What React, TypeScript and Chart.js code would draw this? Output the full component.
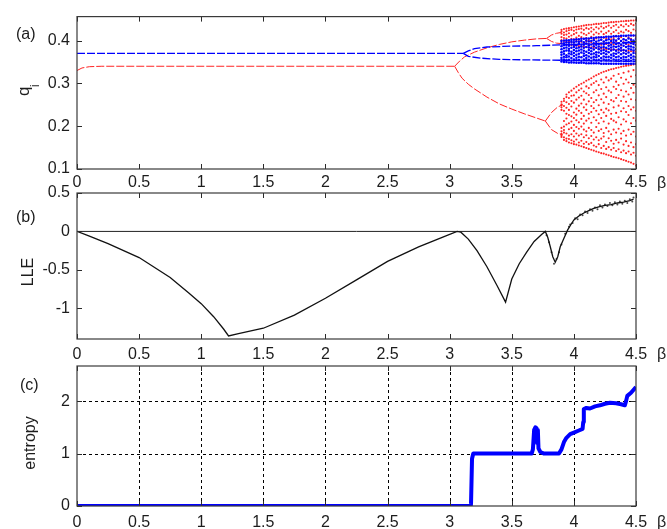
import React, { useEffect, useRef } from 'react';
import { Chart, registerables } from 'chart.js';

Chart.register(...registerables);

const W = 667;
const H = 529;
const FONT = '"Liberation Sans", Arial, sans-serif';
const TEXT = '#1c1c1c';

// ---- axes ----
const betaTicks = [0, 0.5, 1, 1.5, 2, 2.5, 3, 3.5, 4, 4.5];
const qTicks = [0.1, 0.2, 0.3, 0.4];
const lleTicks = [-1, -0.5, 0, 0.5];
const entropyTicks = [0, 1, 2];

// ---- (a) periodic branches, [beta, q] ----
const redMain = [[0, 0.330], [0.04, 0.336], [0.1, 0.339], [0.2, 0.340], [3.04, 0.340]];
const redUpper = [[3.04, 0.340], [3.08, 0.352], [3.12, 0.362], [3.2, 0.373], [3.3, 0.383], [3.4, 0.391], [3.5, 0.397], [3.6, 0.401], [3.7, 0.404], [3.78, 0.405]];
const redUpperA = [[3.78, 0.405], [3.82, 0.413], [3.86, 0.417], [3.9, 0.419]];
const redUpperB = [[3.78, 0.405], [3.82, 0.398], [3.86, 0.394], [3.9, 0.393]];
const redLower = [[3.04, 0.340], [3.07, 0.325], [3.1, 0.312], [3.15, 0.298], [3.2, 0.287], [3.3, 0.268], [3.4, 0.252], [3.5, 0.240], [3.6, 0.229], [3.7, 0.219], [3.77, 0.212]];
const redLowerA = [[3.77, 0.212], [3.82, 0.232], [3.87, 0.245], [3.91, 0.250]];
const redLowerB = [[3.77, 0.212], [3.82, 0.192], [3.87, 0.183], [3.91, 0.180]];
const blueMain = [[0, 0.370], [3.11, 0.370]];
const blueUpper = [[3.11, 0.370], [3.15, 0.376], [3.2, 0.381], [3.3, 0.385], [3.5, 0.387], [3.7, 0.388], [3.9, 0.390], [4.5, 0.396]];
const blueLower = [[3.11, 0.370], [3.15, 0.363], [3.25, 0.359], [3.4, 0.356], [3.6, 0.355], [3.9, 0.354], [4.5, 0.351]];

// ---- (a) chaotic band, q in thousandths per beta column ----
const chaosBeta = [3.90, 3.92, 3.94, 3.96, 3.98, 4.00, 4.02, 4.04, 4.06, 4.08, 4.10, 4.12, 4.14, 4.16, 4.18, 4.20, 4.22, 4.24, 4.26, 4.28, 4.30, 4.32, 4.34, 4.36, 4.38, 4.40, 4.42, 4.44, 4.46, 4.48, 4.50];
const redLowCloud = [
  [175, 182, 188, 196, 238, 244, 251, 257, 179, 249],
  [168, 174, 185, 199, 212, 236, 247, 259, 264, 191],
  [165, 171, 183, 204, 218, 229, 243, 256, 268, 274],
  [162, 170, 178, 193, 207, 226, 238, 252, 266, 279],
  [160, 167, 181, 196, 211, 223, 246, 259, 271, 283],
  [158, 164, 176, 189, 203, 219, 232, 255, 272, 288],
  [157, 169, 183, 198, 214, 227, 241, 262, 279, 292],
  [155, 162, 178, 194, 209, 236, 248, 267, 284, 296],
  [153, 166, 181, 199, 217, 231, 253, 271, 288, 299],
  [151, 159, 174, 192, 206, 224, 244, 262, 281, 302],
  [149, 163, 179, 188, 213, 238, 251, 277, 293, 306],
  [147, 158, 172, 196, 218, 229, 258, 273, 289, 309],
  [145, 161, 177, 191, 208, 233, 247, 266, 297, 312],
  [143, 155, 169, 185, 221, 242, 256, 279, 301, 316],
  [141, 152, 174, 198, 214, 236, 261, 284, 305, 319],
  [139, 158, 167, 189, 207, 228, 249, 272, 296, 322],
  [137, 149, 171, 193, 219, 238, 263, 287, 309, 325],
  [136, 154, 176, 184, 211, 232, 255, 276, 302, 327],
  [134, 147, 163, 196, 224, 241, 268, 291, 314, 329],
  [132, 151, 172, 188, 206, 237, 252, 283, 307, 331],
  [130, 145, 166, 181, 217, 229, 261, 279, 311, 333],
  [128, 149, 159, 192, 213, 244, 258, 292, 318, 334],
  [127, 142, 168, 185, 209, 231, 266, 287, 304, 336],
  [125, 146, 162, 194, 221, 248, 273, 296, 322, 337],
  [123, 139, 171, 183, 204, 235, 259, 284, 313, 339],
  [121, 143, 157, 189, 216, 242, 269, 299, 325, 340],
  [119, 137, 165, 178, 211, 233, 257, 281, 309, 341],
  [117, 141, 154, 192, 226, 247, 274, 302, 328, 342],
  [115, 134, 162, 181, 207, 239, 263, 289, 316, 343],
  [112, 138, 151, 187, 219, 244, 278, 297, 331, 344],
  [108, 131, 158, 176, 213, 236, 261, 292, 319, 345],
];
const redHighCloud = [
  [394, 401, 408, 416, 421, 425],
  [392, 399, 406, 413, 419, 427],
  [391, 397, 405, 414, 422, 428],
  [390, 398, 409, 417, 424, 429],
  [389, 396, 404, 412, 425, 430],
  [388, 395, 403, 415, 423, 431],
  [388, 399, 407, 418, 426, 432],
  [387, 394, 402, 411, 427, 433],
  [386, 397, 408, 419, 428, 434],
  [386, 393, 404, 416, 425, 435],
  [385, 398, 406, 413, 429, 436],
  [384, 392, 401, 417, 427, 437],
  [384, 396, 409, 421, 430, 437],
  [383, 391, 403, 414, 426, 438],
  [383, 397, 405, 419, 431, 439],
  [382, 393, 408, 416, 428, 439],
  [381, 390, 402, 421, 433, 440],
  [381, 396, 407, 415, 429, 441],
  [380, 392, 404, 418, 432, 441],
  [380, 389, 409, 422, 435, 442],
  [379, 395, 403, 416, 430, 443],
  [379, 391, 406, 420, 434, 443],
  [378, 398, 411, 424, 437, 444],
  [378, 393, 405, 417, 431, 444],
  [377, 389, 408, 421, 436, 445],
  [377, 396, 403, 419, 433, 445],
  [376, 392, 410, 425, 438, 446],
  [376, 390, 407, 422, 434, 446],
  [375, 397, 404, 418, 439, 447],
  [375, 393, 412, 426, 436, 447],
  [374, 391, 408, 423, 440, 448],
];
const blueCloud = [
  [351, 355, 360, 367, 373, 380, 387, 393, 399],
  [350, 356, 362, 369, 375, 382, 389, 394, 400],
  [350, 354, 361, 366, 377, 384, 390, 396, 401],
  [349, 355, 363, 370, 376, 381, 388, 395, 401],
  [349, 353, 359, 368, 374, 383, 391, 397, 402],
  [349, 356, 364, 371, 378, 385, 390, 396, 402],
  [348, 354, 360, 367, 375, 382, 389, 398, 403],
  [348, 355, 362, 369, 377, 384, 392, 397, 403],
  [348, 353, 361, 372, 379, 386, 391, 399, 404],
  [348, 356, 364, 370, 376, 383, 390, 396, 404],
  [347, 354, 359, 366, 374, 385, 393, 400, 405],
  [347, 355, 363, 371, 378, 384, 389, 398, 405],
  [347, 353, 360, 368, 375, 382, 391, 399, 406],
  [347, 356, 362, 370, 379, 387, 394, 401, 406],
  [347, 354, 361, 367, 373, 383, 390, 397, 407],
  [347, 355, 364, 372, 380, 386, 392, 400, 407],
  [346, 353, 359, 369, 376, 384, 393, 402, 408],
  [346, 356, 363, 371, 378, 385, 391, 398, 408],
  [346, 354, 361, 368, 375, 383, 394, 401, 409],
  [346, 355, 362, 373, 381, 388, 395, 403, 409],
  [346, 353, 360, 367, 377, 384, 390, 399, 409],
  [346, 356, 364, 370, 379, 386, 396, 402, 410],
  [346, 354, 361, 369, 376, 385, 392, 400, 410],
  [346, 355, 363, 372, 380, 387, 394, 404, 410],
  [346, 353, 359, 368, 377, 383, 391, 399, 411],
  [346, 356, 362, 371, 378, 388, 395, 403, 411],
  [346, 354, 361, 369, 376, 385, 393, 401, 411],
  [346, 355, 364, 372, 381, 387, 396, 405, 412],
  [346, 353, 360, 367, 379, 386, 394, 402, 412],
  [346, 356, 363, 371, 377, 384, 392, 400, 412],
  [346, 354, 361, 370, 380, 389, 397, 404, 412],
];

// ---- (b) largest Lyapunov exponent ----
const lleBeta = [0, 0.1, 0.25, 0.5, 0.75, 0.9, 1.0, 1.1, 1.18, 1.22, 1.3, 1.5, 1.75, 2.0, 2.25, 2.5, 2.75, 2.95, 3.06, 3.09, 3.15, 3.22, 3.3, 3.38, 3.45, 3.5, 3.56, 3.62, 3.68, 3.74, 3.77, 3.79, 3.81, 3.83, 3.85, 3.87, 3.89, 3.92, 3.95, 3.98, 4.0, 4.04, 4.08, 4.12, 4.16, 4.2, 4.25, 4.3, 4.35, 4.4, 4.45, 4.48];
const lleValue = [0, -0.06, -0.16, -0.34, -0.6, -0.8, -0.94, -1.11, -1.27, -1.36, -1.33, -1.26, -1.09, -0.87, -0.63, -0.39, -0.2, -0.07, 0, -0.01, -0.1, -0.25, -0.46, -0.7, -0.92, -0.62, -0.42, -0.27, -0.13, -0.04, 0, -0.08, -0.2, -0.33, -0.4, -0.33, -0.2, -0.09, 0.02, 0.1, 0.15, 0.2, 0.24, 0.27, 0.3, 0.32, 0.34, 0.35, 0.37, 0.38, 0.4, 0.42];
const lleScatterBeta = [3.78, 3.8, 3.82, 3.84, 3.86, 3.88, 3.9, 3.93, 3.96, 3.97, 3.99, 4.01, 4.03, 4.05, 4.07, 4.09, 4.11, 4.13, 4.15, 4.17, 4.19, 4.21, 4.23, 4.25, 4.27, 4.29, 4.31, 4.33, 4.35, 4.37, 4.39, 4.41, 4.43, 4.45, 4.47, 4.48];
const lleScatterValue = [-0.05, -0.14, -0.27, -0.42, -0.36, -0.27, -0.17, -0.03, 0.06, 0.09, 0.11, 0.17, 0.16, 0.22, 0.21, 0.26, 0.24, 0.29, 0.27, 0.31, 0.29, 0.34, 0.31, 0.35, 0.33, 0.37, 0.34, 0.38, 0.35, 0.39, 0.36, 0.4, 0.37, 0.42, 0.39, 0.44];

// ---- (c) entropy ----
const entropyBeta = [0, 3.17, 3.172, 3.18, 3.19, 3.66, 3.67, 3.68, 3.69, 3.7, 3.705, 3.71, 3.715, 3.73, 3.76, 3.88, 3.9, 3.92, 3.94, 3.97, 4.0, 4.04, 4.07, 4.075, 4.08, 4.1, 4.13, 4.17, 4.21, 4.25, 4.29, 4.34, 4.38, 4.41, 4.42, 4.43, 4.46, 4.5];
const entropyValue = [0, 0, 0.05, 0.9, 1.0, 1.0, 1.08, 1.45, 1.5, 1.48, 1.2, 1.45, 1.1, 1.03, 1.0, 1.0, 1.08, 1.22, 1.3, 1.37, 1.4, 1.44, 1.47, 1.6, 1.85, 1.87, 1.86, 1.9, 1.92, 1.95, 1.97, 1.96, 1.94, 1.92, 2.0, 2.1, 2.16, 2.27];

const fromPairs = (arr: number[][]) => arr.map(([x, y]) => ({ x, y }));
const fromColumns = (xs: number[], ys: number[]) => xs.map((x, i) => ({ x, y: ys[i] }));
const fromCloud = (xs: number[], rows: number[][]) =>
  rows.flatMap((row, i) => row.map((v) => ({ x: xs[i], y: v / 1000 })));

const RED = '#ff2424';
const BLUE = '#0000ff';

const branch = (arr: number[][], color: string, width = 1) => ({
  data: fromPairs(arr),
  showLine: true,
  borderColor: color,
  borderWidth: width,
  borderDash: [8, 2],
  pointRadius: 0,
});

const cloud = (rows: number[][], color: string, r: number) => ({
  data: fromCloud(chaosBeta, rows),
  showLine: false,
  pointRadius: r,
  pointBorderWidth: 0,
  pointBackgroundColor: color,
  backgroundColor: color,
});

type Panel = {
  top: number;
  bottom: number;
  yMin: number;
  yMax: number;
  yTicks: number[];
  xPad: number;
  dashedGrid: boolean;
  tag: string;
  tagPos: [number, number];
  betaBaseline: number;
  drawTitle: (ctx: CanvasRenderingContext2D) => void;
};

const LEFT = 77;
const RIGHT = 636;
const X_AXIS_H = 30;

function frameTicks(chart: any, p: Panel) {
  const { ctx, chartArea: a, scales } = chart;
  const xs = scales.x;
  const ys = scales.y;
  ctx.save();
  ctx.strokeStyle = '#2a2a2a';
  ctx.lineWidth = 1;
  ctx.beginPath();
  const tl = 5;
  for (const v of betaTicks) {
    const px = Math.round(xs.getPixelForValue(v)) + 0.5;
    ctx.moveTo(px, a.top);
    ctx.lineTo(px, a.top + tl);
    ctx.moveTo(px, a.bottom);
    ctx.lineTo(px, a.bottom - tl);
  }
  for (const v of p.yTicks) {
    const py = Math.round(ys.getPixelForValue(v)) + 0.5;
    ctx.moveTo(a.left, py);
    ctx.lineTo(a.left + tl, py);
    ctx.moveTo(a.right, py);
    ctx.lineTo(a.right - tl, py);
  }
  ctx.stroke();
  ctx.strokeStyle = '#3a3a3a';
  ctx.lineWidth = 1.2;
  ctx.strokeRect(a.left, a.top, a.right - a.left, a.bottom - a.top);
  ctx.restore();
}

function gridLines(chart: any, p: Panel) {
  if (!p.dashedGrid) return;
  const { ctx, chartArea: a, scales } = chart;
  ctx.save();
  ctx.strokeStyle = '#000';
  ctx.lineWidth = 1;
  ctx.setLineDash([3, 3]);
  ctx.beginPath();
  for (const v of betaTicks) {
    if (v === 0 || v === 4.5) continue;
    const px = Math.round(scales.x.getPixelForValue(v)) + 0.5;
    ctx.moveTo(px, a.top);
    ctx.lineTo(px, a.bottom);
  }
  for (const v of p.yTicks) {
    if (v === 0) continue;
    const py = Math.round(scales.y.getPixelForValue(v)) + 0.5;
    ctx.moveTo(a.left, py);
    ctx.lineTo(a.right, py);
  }
  ctx.stroke();
  ctx.restore();
}

function texts(chart: any, p: Panel) {
  const { ctx } = chart;
  ctx.save();
  ctx.fillStyle = TEXT;
  ctx.font = `16px ${FONT}`;
  ctx.textAlign = 'left';
  ctx.textBaseline = 'middle';
  ctx.fillText(p.tag, p.tagPos[0], p.tagPos[1]);
  ctx.textBaseline = 'alphabetic';
  ctx.fillText('β', 657, p.betaBaseline);
  p.drawTitle(ctx);
  ctx.restore();
}

function buildOptions(p: Panel) {
  return {
    responsive: false,
    maintainAspectRatio: false,
    animation: false as const,
    events: [],
    layout: {
      padding: { left: 0, right: W - RIGHT, top: p.top, bottom: H - p.bottom - X_AXIS_H },
    },
    plugins: { legend: { display: false }, tooltip: { enabled: false } },
    scales: {
      x: {
        type: 'linear' as const,
        min: 0,
        max: 4.5,
        grid: { display: false, drawTicks: false },
        border: { display: false },
        afterBuildTicks: (s: any) => {
          s.ticks = betaTicks.map((value) => ({ value }));
        },
        afterFit: (s: any) => {
          s.height = X_AXIS_H;
        },
        ticks: {
          autoSkip: false,
          maxRotation: 0,
          padding: p.xPad,
          color: TEXT,
          font: { family: FONT, size: 16 },
          callback: (v: any) => String(v),
        },
      },
      y: {
        type: 'linear' as const,
        min: p.yMin,
        max: p.yMax,
        grid: { display: false, drawTicks: false },
        border: { display: false },
        afterBuildTicks: (s: any) => {
          s.ticks = p.yTicks.map((value) => ({ value }));
        },
        afterFit: (s: any) => {
          s.width = LEFT;
        },
        ticks: {
          padding: 7,
          color: TEXT,
          font: { family: FONT, size: 16 },
          callback: (v: any) => String(v),
        },
      },
    },
  };
}

const panelA: Panel = {
  top: 10,
  bottom: 169,
  yMin: 0.1,
  yMax: 0.456,
  yTicks: qTicks,
  xPad: 4,
  dashedGrid: false,
  tag: '(a)',
  tagPos: [16, 35],
  betaBaseline: 188,
  drawTitle: (ctx) => {
    ctx.save();
    ctx.translate(29, 96);
    ctx.rotate(-Math.PI / 2);
    ctx.textAlign = 'left';
    ctx.textBaseline = 'alphabetic';
    ctx.font = `17px ${FONT}`;
    ctx.fillText('q', 0, 0);
    ctx.font = `12px ${FONT}`;
    ctx.fillText('i', 9, 10);
    ctx.restore();
  },
};

const panelB: Panel = {
  top: 193,
  bottom: 339,
  yMin: -1.4,
  yMax: 0.5,
  yTicks: lleTicks,
  xPad: 6,
  dashedGrid: false,
  tag: '(b)',
  tagPos: [16, 218],
  betaBaseline: 359,
  drawTitle: (ctx) => {
    ctx.save();
    ctx.translate(33, 272);
    ctx.rotate(-Math.PI / 2);
    ctx.textAlign = 'center';
    ctx.textBaseline = 'alphabetic';
    ctx.font = `16px ${FONT}`;
    ctx.fillText('LLE', 0, 0);
    ctx.restore();
  },
};

const panelC: Panel = {
  top: 366,
  bottom: 506,
  yMin: 0,
  yMax: 2.67,
  yTicks: entropyTicks,
  xPad: 7,
  dashedGrid: true,
  tag: '(c)',
  tagPos: [20, 386],
  betaBaseline: 527,
  drawTitle: (ctx) => {
    ctx.save();
    ctx.translate(35, 443);
    ctx.rotate(-Math.PI / 2);
    ctx.textAlign = 'center';
    ctx.textBaseline = 'alphabetic';
    ctx.font = `16px ${FONT}`;
    ctx.fillText('entropy', 0, 0);
    ctx.restore();
  },
};

function decor(p: Panel) {
  return {
    id: 'decor',
    beforeDatasetsDraw: (chart: any) => gridLines(chart, p),
    afterDatasetsDraw: (chart: any) => frameTicks(chart, p),
    afterDraw: (chart: any) => texts(chart, p),
  };
}

const datasetsA = [
  cloud(blueCloud, BLUE, 1.25),
  branch(blueUpper, BLUE, 1.3),
  branch(blueLower, BLUE, 1.3),
  branch(blueMain, BLUE, 1.2),
  cloud(redHighCloud, RED, 1.05),
  cloud(redLowCloud, RED, 1.05),
  branch(redMain, RED),
  branch(redUpper, RED),
  branch(redUpperA, RED),
  branch(redUpperB, RED),
  branch(redLower, RED),
  branch(redLowerA, RED),
  branch(redLowerB, RED),
];

const datasetsB = [
  {
    data: fromColumns(lleBeta, lleValue),
    showLine: true,
    borderColor: '#111',
    borderWidth: 1.3,
    pointRadius: 0,
  },
  {
    data: fromColumns(lleScatterBeta, lleScatterValue),
    showLine: false,
    pointRadius: 1,
    pointBorderWidth: 0,
    pointBackgroundColor: 'rgba(40,40,40,0.85)',
  },
  {
    data: [{ x: 0, y: 0 }, { x: 4.5, y: 0 }],
    showLine: true,
    borderColor: '#222',
    borderWidth: 1,
    pointRadius: 0,
  },
];

const datasetsC = [
  {
    data: fromColumns(entropyBeta, entropyValue),
    showLine: true,
    borderColor: BLUE,
    borderWidth: 4,
    borderJoinStyle: 'round' as const,
    pointRadius: 0,
  },
];

function PanelCanvas({ panel, datasets }: { panel: Panel; datasets: any[] }) {
  const ref = useRef<HTMLCanvasElement | null>(null);
  useEffect(() => {
    if (!ref.current) return;
    const chart = new Chart(ref.current, {
      type: 'scatter',
      data: { datasets },
      options: buildOptions(panel) as any,
      plugins: [decor(panel)],
    });
    return () => chart.destroy();
  }, [panel, datasets]);
  return (
    <canvas
      ref={ref}
      width={W}
      height={H}
      style={{ position: 'absolute', left: 0, top: 0, width: W, height: H }}
    />
  );
}

export default function App() {
  return (
    <div style={{ position: 'absolute', left: 0, top: 0, width: W, height: H, background: '#fff' }}>
      <PanelCanvas panel={panelA} datasets={datasetsA} />
      <PanelCanvas panel={panelB} datasets={datasetsB} />
      <PanelCanvas panel={panelC} datasets={datasetsC} />
    </div>
  );
}
